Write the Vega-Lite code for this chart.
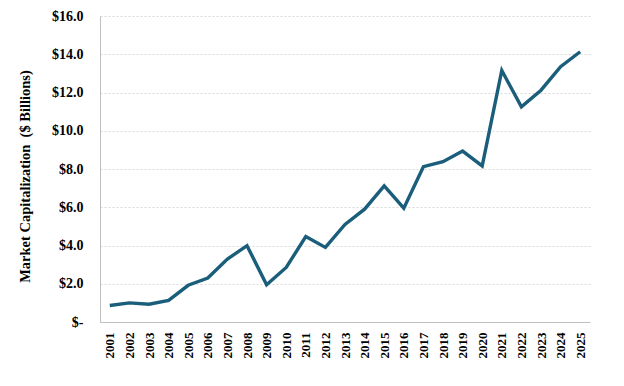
{
  "$schema": "https://vega.github.io/schema/vega-lite/v6.json",
  "autosize": {"type": "none"},
  "width": 490,
  "height": 306,
  "padding": {"left": 100, "top": 16, "right": 34, "bottom": 64},
  "background": "white",
  "config": {
    "view": {"stroke": null},
    "font": "Liberation Serif"
  },
  "data": {
    "values": [
      {"year": "2001", "cap": 0.86},
      {"year": "2002", "cap": 1.0},
      {"year": "2003", "cap": 0.93},
      {"year": "2004", "cap": 1.13},
      {"year": "2005", "cap": 1.92},
      {"year": "2006", "cap": 2.3},
      {"year": "2007", "cap": 3.29},
      {"year": "2008", "cap": 3.99},
      {"year": "2009", "cap": 1.95},
      {"year": "2010", "cap": 2.85},
      {"year": "2011", "cap": 4.47},
      {"year": "2012", "cap": 3.9},
      {"year": "2013", "cap": 5.1},
      {"year": "2014", "cap": 5.9},
      {"year": "2015", "cap": 7.12},
      {"year": "2016", "cap": 5.95},
      {"year": "2017", "cap": 8.12},
      {"year": "2018", "cap": 8.38},
      {"year": "2019", "cap": 8.94},
      {"year": "2020", "cap": 8.16},
      {"year": "2021", "cap": 13.15},
      {"year": "2022", "cap": 11.25},
      {"year": "2023", "cap": 12.12},
      {"year": "2024", "cap": 13.35},
      {"year": "2025", "cap": 14.13}
    ]
  },
  "mark": {"type": "line", "color": "#1b5e7b", "strokeWidth": 3.4, "strokeJoin": "miter"},
  "encoding": {
    "x": {
      "field": "year",
      "type": "ordinal",
      "scale": {"type": "point", "padding": 0.5},
      "axis": {
        "title": null,
        "labelAngle": -90,
        "labelFont": "Liberation Serif",
        "labelFontWeight": "bold",
        "labelFontSize": 13,
        "labelColor": "black",
        "labelPadding": 10,
        "ticks": false,
        "grid": false,
        "domainColor": "#bfbfbf",
        "domainWidth": 1
      }
    },
    "y": {
      "field": "cap",
      "type": "quantitative",
      "scale": {"domain": [0, 16], "nice": false},
      "axis": {
        "values": [0, 2, 4, 6, 8, 10, 12, 14, 16],
        "labelExpr": "datum.value == 0 ? '$-' : '$' + format(datum.value, '.1f')",
        "labelFont": "Liberation Serif",
        "labelFontWeight": "bold",
        "labelFontSize": 14,
        "labelColor": "black",
        "labelPadding": 17,
        "ticks": false,
        "grid": true,
        "gridColor": "#d9d9d9",
        "gridDash": [2, 2],
        "gridWidth": 1,
        "domainColor": "#bfbfbf",
        "domainWidth": 1,
        "title": "Market Capitalization \u00a0($ Billions)",
        "titleFont": "Liberation Serif",
        "titleFontWeight": "bold",
        "titleFontSize": 14.5,
        "titleColor": "black",
        "titleAngle": -90,
        "titleAlign": "center",
        "titleBaseline": "middle",
        "titleX": -75,
        "titleY": 160
      }
    }
  }
}
